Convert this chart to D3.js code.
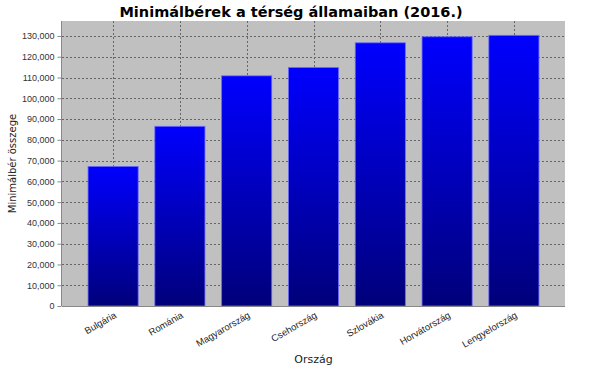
<!DOCTYPE html>
<html><head><meta charset="utf-8">
<script src="https://cdn.jsdelivr.net/npm/d3@7"></script>
<style>body{margin:0;background:#fff}svg{display:block}</style>
</head><body>
<script>
const categories = ["Bulgária","Románia","Magyarország","Csehország","Szlovákia","Horvátország","Lengyelország"];
const values = [67200, 86500, 110800, 114800, 126700, 129600, 130300];
const yTicks = [0,10000,20000,30000,40000,50000,60000,70000,80000,90000,100000,110000,120000,130000];
const title = "Minimálbérek a térség államaiban (2016.)";
const xTitle = "Ország";
const yTitle = "Minimálbér összege";

const W = 590, H = 372;
const L = 62, R = 565, T = 21, B = 306;
const svg = d3.select("body").append("svg").attr("width", W).attr("height", H);

const defs = svg.append("defs");
const g = defs.append("linearGradient").attr("id","barGrad").attr("x1",0).attr("y1",0).attr("x2",0).attr("y2",1);
g.append("stop").attr("offset","0%").attr("stop-color","#0000ff");
g.append("stop").attr("offset","100%").attr("stop-color","#00007a");

const x = d3.scaleBand().domain(categories).range([L, R]).paddingInner(0.25).paddingOuter(0.39);
const y = d3.scaleLinear().domain([0, 137200]).range([B, T]);

svg.append("rect").attr("x", L).attr("y", T).attr("width", R - L).attr("height", B - T).attr("fill", "#c0c0c0");

// gridlines
svg.append("g").selectAll("line").data(yTicks.filter(d => d > 0)).join("line")
  .attr("x1", L).attr("x2", R).attr("y1", d => Math.round(y(d)) + 0.5).attr("y2", d => Math.round(y(d)) + 0.5)
  .attr("stroke", "#666").attr("stroke-width", 1).attr("stroke-dasharray", "2,2");
svg.append("g").selectAll("line").data(categories).join("line")
  .attr("y1", T).attr("y2", B).attr("x1", d => Math.round(x(d) + x.bandwidth()/2) + 0.5).attr("x2", d => Math.round(x(d) + x.bandwidth()/2) + 0.5)
  .attr("stroke", "#666").attr("stroke-width", 1).attr("stroke-dasharray", "2,2");

// bars
svg.append("g").selectAll("rect").data(values).join("rect")
  .attr("x", (d, i) => x(categories[i]))
  .attr("y", d => y(d))
  .attr("width", x.bandwidth())
  .attr("height", d => B - y(d))
  .attr("fill", "url(#barGrad)")
  .attr("stroke", "#6a6aff").attr("stroke-width", 0.8);

// y axis
const yAxis = d3.axisLeft(y).tickValues(yTicks).tickSize(4).tickPadding(3)
  .tickFormat(d3.format(","));
const ya = svg.append("g").attr("transform", `translate(${L - 0.5},0)`).call(yAxis);
ya.select(".domain").attr("stroke", "#888").attr("d", `M0,${T}V${B}`);
ya.selectAll(".tick line").attr("stroke", "#888");
ya.selectAll(".tick text").attr("font-family", "Liberation Sans, Arial, sans-serif").attr("font-size", 9).attr("fill", "#333");

// x axis line
svg.append("line").attr("x1", L).attr("x2", R).attr("y1", B + 0.5).attr("y2", B + 0.5).attr("stroke", "#888");

// x tick labels
svg.append("g").selectAll("text").data(categories).join("text")
  .attr("transform", d => `translate(${x(d) + x.bandwidth()/2 + 4},${B + 11}) rotate(-30)`)
  .attr("text-anchor", "end")
  .attr("font-family", "Liberation Sans, Arial, sans-serif").attr("font-size", 9.5).attr("fill", "#222")
  .text(d => d);

// titles
svg.append("text").attr("x", 291).attr("y", 17).attr("text-anchor", "middle")
  .attr("font-family", "DejaVu Sans, sans-serif").attr("font-weight", "bold").attr("font-size", 14.5).attr("fill", "#000")
  .text(title);
svg.append("text").attr("x", (L + R) / 2).attr("y", 363).attr("text-anchor", "middle")
  .attr("font-family", "DejaVu Sans, sans-serif").attr("font-size", 11).attr("fill", "#222").text(xTitle);
svg.append("text").attr("transform", `translate(16,${(T + B) / 2}) rotate(-90)`).attr("text-anchor", "middle")
  .attr("font-family", "DejaVu Sans, sans-serif").attr("font-size", 10).attr("fill", "#222").text(yTitle);
</script>
</body></html>
